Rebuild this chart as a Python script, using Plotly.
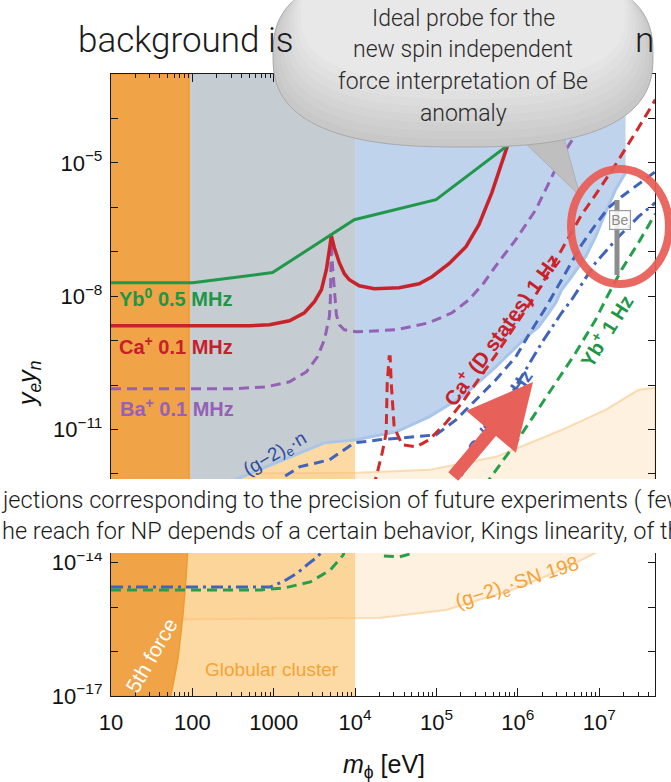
import numpy as np
import plotly.graph_objects as go

# ---------------- data ----------------
# all values are log10: x = log10(m_phi / eV), y = log10(y_e * y_n)
yb0_logm = [1.0, 2.005, 2.985, 3.99, 4.995, 5.853, 6.99]
yb0_logy = [-7.70, -7.70, -7.47, -6.28, -5.83, -4.64, -3.06]

ca_logm = [1.0, 2.703, 2.948, 3.194, 3.377, 3.500, 3.586, 3.647, 3.684, 3.708, 3.745, 3.806, 3.868,
           3.929, 4.051, 4.235, 4.542, 4.787, 4.946, 5.154, 5.363, 5.522, 5.681, 5.865, 6.012]
ca_logy = [-8.667, -8.667, -8.645, -8.554, -8.374, -8.126, -7.856, -7.405, -6.955, -6.640, -6.910, -7.248, -7.495,
           -7.631, -7.766, -7.834, -7.811, -7.721, -7.563, -7.270, -6.887, -6.392, -5.671, -4.658, -3.577]

ba_logm = [1.0, 2.495, 2.912, 3.194, 3.402, 3.537, 3.623, 3.684, 3.696, 3.704, 3.708, 3.721, 3.745, 3.770, 3.806,
           3.868, 4.015, 4.297, 4.505, 4.909, 5.191, 5.400, 5.583, 5.767, 5.975, 6.221, 6.380, 6.539, 6.748, 6.993, 7.238]
ba_logy = [-10.086, -10.086, -10.041, -9.928, -9.703, -9.365, -8.982, -8.464, -8.081, -7.405, -6.797, -7.293, -7.968,
           -8.419, -8.644, -8.757, -8.802, -8.779, -8.757, -8.599, -8.374, -8.081, -7.698, -7.225, -6.730, -6.054,
           -5.446, -4.860, -4.252, -3.464, -2.676]

caD_logm = [1.0, 3.316, 3.806, 4.113, 4.260, 4.333, 4.382, 4.395, 4.419, 4.431, 4.444, 4.480, 4.578, 4.750, 4.909,
            5.118, 5.314, 5.485, 5.730, 5.975, 6.221, 6.539, 6.784, 6.956, 7.201, 7.446, 7.691]
caD_logy = [-13.486, -13.486, -13.306, -12.856, -12.068, -11.527, -11.077, -9.950, -9.365, -9.365, -9.950, -10.941,
            -11.347, -11.392, -11.234, -10.851, -10.401, -9.950, -9.320, -8.644, -7.968, -6.955, -6.167, -5.716,
            -5.041, -4.320, -3.577]

sr_logm = [1.0, 2.581, 2.850, 3.010, 3.108, 3.316, 3.684, 3.990, 4.297, 4.995, 5.240, 5.485, 5.730, 5.975, 6.135,
           6.343, 6.539, 6.784, 6.956, 7.115, 7.275, 7.446, 7.691]
sr_logy = [-12.923, -12.923, -12.766, -12.473, -12.090, -11.842, -11.685, -11.302, -11.234, -11.122, -10.784,
           -10.333, -9.883, -9.365, -8.869, -8.261, -7.631, -6.842, -6.392, -6.009, -5.761, -5.536, -5.198]

srdd_logm = [1.0, 2.961, 3.132, 3.292, 3.439, 3.537, 3.610, 3.745, 3.929, 4.297, 4.787, 5.093, 5.277, 5.522, 5.804,
             6.049, 6.294, 6.539, 6.662, 6.956, 7.238, 7.483, 7.691]
srdd_logy = [-14.545, -14.545, -14.410, -14.230, -14.005, -13.869, -13.712, -13.216, -12.856, -12.653, -12.541,
             -12.405, -12.135, -11.302, -10.559, -9.815, -9.050, -8.374, -8.081, -7.248, -6.662, -6.212, -5.896]

ybp_logm = [1.0, 2.838, 3.132, 3.451, 3.696, 3.855, 3.953, 4.051, 4.199, 4.333, 4.542, 4.725, 5.032, 5.338, 5.645,
            5.975, 6.221, 6.466, 6.711, 6.956, 7.078, 7.275, 7.483, 7.691]
ybp_logy = [-14.613, -14.613, -14.568, -14.432, -14.162, -13.824, -13.149, -12.923, -13.486, -13.847, -13.869,
            -13.779, -13.261, -12.698, -12.135, -11.302, -10.626, -9.950, -9.275, -8.532, -8.081, -7.405, -6.797,
            -6.144]

# excluded regions
g2n_bound_logm = [1.968, 2.581, 3.623, 4.0, 4.015, 4.505, 4.909, 5.314, 5.730, 6.135, 6.257, 6.380, 6.466, 6.539,
                  6.662, 6.833, 6.956, 7.078, 7.201, 7.324]
g2n_bound_logy = [-12.586, -12.090, -11.302, -11.24, -11.234, -11.054, -10.716, -10.266, -9.590, -8.869, -8.689,
                  -8.374, -8.149, -7.856, -7.563, -7.113, -6.662, -6.122, -5.604, -5.221]
g2n_top_logy = -3.0

sn_top_logm = [1.0, 4.015, 4.909, 5.730, 6.539, 7.078, 7.483, 7.691]
sn_top_logy = [-12.0, -11.977, -11.910, -11.617, -11.009, -10.559, -10.108, -10.063]
sn_bot_logm = [1.0, 4.297, 5.118, 5.926, 6.539, 6.956, 7.238, 7.691]
sn_bot_logy = [-15.288, -15.243, -15.063, -14.613, -14.162, -13.779, -13.486, -12.923]

globular_logm = [1.0, 4.0]

fifth_logm = [1.0, 1.96, 1.96, 1.944, 1.92, 1.882, 1.82, 1.735, 1.0]
fifth_logy = [-3.0, -3.0, -13.2, -13.71, -14.4, -15.22, -16.2, -17.0, -17.0]

x_tick_exp = [1, 2, 3, 4, 5, 6, 7]
x_tick_text = ["10", "100", "1000", "10<sup>4</sup>", "10<sup>5</sup>", "10<sup>6</sup>", "10<sup>7</sup>"]
y_label_exp = [-17, -14, -11, -8, -5]
LOGX_RANGE = [1.0, 7.686]
LOGY_RANGE = [-17.0, -3.0]

FONT = "Liberation Sans, Arial, sans-serif"
SLIDE_FONT = "Roboto, Liberation Sans, sans-serif"

# ---------------- helpers ----------------
def v(a):
    return 10.0 ** np.asarray(a, dtype=float)

# pixel -> paper mapping for decorative overlays
PL, PR, PT, PB = 111, 655, 74, 696
def fx(x):
    return (x - PL) / (PR - PL)
def fy(y):
    return (PB - y) / (PB - PT)

fig = go.Figure()

def region(lm, ly, color, line=None, lw=0):
    fig.add_trace(go.Scatter(x=v(lm), y=v(ly), mode="lines", fill="toself", fillcolor=color,
                             line=dict(color=line or color, width=lw), hoverinfo="skip", showlegend=False))

# globular cluster
region([globular_logm[0], globular_logm[1], globular_logm[1], globular_logm[0]],
       [LOGY_RANGE[0], LOGY_RANGE[0], LOGY_RANGE[1], LOGY_RANGE[1]], "#FDDAA4")
# SN 1987A x (g-2)e
region(sn_top_logm + sn_bot_logm[::-1], sn_top_logy + sn_bot_logy[::-1],
       "rgba(250,200,130,0.26)", line="rgba(250,190,115,0.5)", lw=2)
# (g-2)e . n : blue part (m >= 1e4) and grey part (overlap, m < 1e4)
k = g2n_bound_logm.index(4.0)
region(g2n_bound_logm[k:] + [g2n_bound_logm[-1], 4.0], g2n_bound_logy[k:] + [g2n_top_logy, g2n_top_logy], "#BFD3EC")
region(g2n_bound_logm[:k + 1] + [4.0, g2n_bound_logm[0]], g2n_bound_logy[:k + 1] + [g2n_top_logy, g2n_top_logy],
       "#C5CDD3")
fig.add_trace(go.Scatter(x=v(g2n_bound_logm), y=v(g2n_bound_logy), mode="lines",
                         line=dict(color="#A9C5EA", width=3), hoverinfo="skip", showlegend=False))
# 5th force
region(fifth_logm, fifth_logy, "#F0A347", line="#F29A2E", lw=1.5)

def curve(lm, ly, color, width=3, dash="solid"):
    fig.add_trace(go.Scatter(x=v(lm), y=v(ly), mode="lines", line=dict(color=color, width=width, dash=dash),
                             hoverinfo="skip", showlegend=False))

DASH = "10px,6px"
curve(srdd_logm, srdd_logy, "#3F64BA", 3, "12px,5px,3px,5px")
curve(ybp_logm, ybp_logy, "#24A04C", 3, DASH)
curve(sr_logm, sr_logy, "#3F64BA", 3, DASH)
curve(caD_logm, caD_logy, "#D02A2A", 3, DASH)
curve(ba_logm, ba_logy, "#9561B5", 3, DASH)
curve(ca_logm, ca_logy, "#C8222B", 3.5)
curve(yb0_logm, yb0_logy, "#21974A", 3)

# ---------------- axes ----------------
x_minor = [m * 10.0 ** e for e in range(1, 8) for m in range(2, 10) if m * 10.0 ** e < 10 ** LOGX_RANGE[1]]
y_major = [10.0 ** e for e in y_label_exp]
y_major_text = ["10<sup>\u2212%d</sup>" % (-e) for e in y_label_exp]
y_minor = [10.0 ** e for e in range(-17, -2) if e not in y_label_exp]

axis_common = dict(type="log", showgrid=False, zeroline=False, showline=True, linecolor="#1a1a1a", linewidth=1.3,
                   mirror="ticks", ticks="inside", tickcolor="#1a1a1a", tickwidth=1.2,
                   tickfont=dict(family=FONT, size=22, color="#111"))
fig.update_xaxes(range=LOGX_RANGE, tickvals=[10.0 ** e for e in x_tick_exp], ticktext=x_tick_text, ticklen=8,
                 ticklabelstandoff=6,
                 minor=dict(tickvals=x_minor, ticks="inside", ticklen=4, tickwidth=1, tickcolor="#1a1a1a"),
                 **axis_common)
fig.update_yaxes(range=LOGY_RANGE, tickvals=y_major, ticktext=y_major_text, ticklen=7, ticklabelstandoff=3,
                 minor=dict(tickvals=y_minor, ticks="inside", ticklen=7, tickwidth=1.2, tickcolor="#1a1a1a"),
                 **axis_common)

# ---------------- overlays (slide decorations) ----------------
shapes = []

def poly_path(pts):
    return "M" + " L".join("%.5f,%.5f" % (fx(x), fy(y)) for x, y in pts) + " Z"

def superellipse(cx, cy, a, b, n, num=120):
    t = np.linspace(0, 2 * np.pi, num, endpoint=False)
    c, s = np.cos(t), np.sin(t)
    xs = cx + a * np.sign(c) * np.abs(c) ** (2.0 / n)
    ys = cy + b * np.sign(s) * np.abs(s) ** (2.0 / n)
    return poly_path(list(zip(xs, ys)))

# white text band of the slide
shapes.append(dict(type="rect", xref="paper", yref="paper", x0=fx(-10), x1=fx(690), y0=fy(553), y1=fy(479),
                   fillcolor="white", line=dict(width=0), layer="above"))
# speech-bubble tail
shapes.append(dict(type="path", xref="paper", yref="paper", path=poly_path([(520, 138), (562, 130), (580, 196)]),
                   fillcolor="#BFBFBF", line=dict(color="#A8A8A8", width=0.8), layer="above"))
# speech bubble with soft vertical gradient
shapes.append(dict(type="path", xref="paper", yref="paper", path=superellipse(463, 55, 190, 92, 2.6),
                   fillcolor="#C8C8C8", line=dict(color="#A9A9A9", width=1), layer="above"))
for i in range(1, 9):
    g = 0xC8 + i * 4
    shapes.append(dict(type="path", xref="paper", yref="paper",
                       path=superellipse(463, 55 - 5 * i, 190 - 3.5 * i, 92 - 3 * i, 2.6),
                       fillcolor="#%02X%02X%02X" % (g, g, g), line=dict(width=0), layer="above"))
# Be marker bar
shapes.append(dict(type="line", xref="paper", yref="paper", x0=fx(617), x1=fx(617), y0=fy(275), y1=fy(200),
                   line=dict(color="#8C8C8C", width=5), layer="above"))
# hand-drawn red circle
shapes.append(dict(type="circle", xref="paper", yref="paper", x0=fx(571), x1=fx(669), y0=fy(284), y1=fy(169),
                   line=dict(color="rgba(232,92,86,0.93)", width=8), layer="above"))

ann = []

def label(x, y, text, color, size, angle=0, bold=False, xanchor="center", family=FONT, weight=None):
    f = dict(family=family, size=size, color=color)
    if weight:
        f["weight"] = weight
    ann.append(dict(x=fx(x), y=fy(y), xref="paper", yref="paper", text=("<b>%s</b>" % text) if bold else text,
                    showarrow=False, textangle=angle, xanchor=xanchor, yanchor="middle", font=f))

label(117, 297, "Yb<sup>0</sup> 0.5 MHz", "#1E9646", 20, bold=True, xanchor="left")
label(117, 345, "Ca<sup>+</sup> 0.1 MHz", "#C8202A", 20, bold=True, xanchor="left")
label(118, 407, "Ba<sup>+</sup> 0.1 MHz", "#9561B5", 20, bold=True, xanchor="left")
label(275, 455, "(g\u22122)<sub>e</sub>\u00b7n", "#2E4C9E", 19, angle=-30)
label(501, 329, "Ca<sup>+</sup> (D states) 1 Hz", "#C8202A", 20.5, angle=-54, bold=True)
label(499, 411, "Sr/Sr<sup>+</sup> 1 Hz", "#3F63B8", 19, angle=-55, bold=True)
label(605, 330, "Yb<sup>+</sup> 1 Hz", "#1E9646", 20, angle=-58, bold=True)
label(151, 655, "5th force", "white", 21, angle=-60)
label(272, 669, "Globular cluster", "#F7A234", 19)
label(517, 583, "(g\u22122)<sub>e</sub>\u00b7SN 198", "#F7A234", 20, angle=-18)

# Be box
ann.append(dict(x=fx(631), y=fy(210), xref="paper", yref="paper", text="Be", showarrow=False,
                font=dict(family=FONT, size=14, color="#8A8A8A"), bordercolor="#9C9C9C", borderwidth=1.2,
                borderpad=1, bgcolor="rgba(255,255,255,0.85)"))

# red hand-drawn arrow
ann.append(dict(x=fx(533), y=fy(382), xref="paper", yref="paper", ax=-81, ay=96, text="", showarrow=True,
                arrowhead=2, arrowsize=1.0, arrowwidth=13, arrowcolor="#E8605A", standoff=0))

# axis titles
label(29, 384, "<i>y<sub>e</sub>y<sub>n</sub></i>", "#111", 25, angle=-90)
label(384, 766, "<i>m</i><sub>\u03d5</sub> [eV]", "#111", 25)

# slide texts
label(186, 40, "background is", "#1a1a1a", 35, family=SLIDE_FONT, weight=300)
label(644, 40, "n", "#1a1a1a", 35, family=SLIDE_FONT, weight=300)
for txt, yy in [("Ideal probe for the", 18), ("new spin independent", 50),
                ("force interpretation of Be", 82), ("anomaly", 113)]:
    label(463, yy, txt, "#2a2a2a", 23, family=SLIDE_FONT, weight=300)
label(-1, 500, "jections corresponding to the precision of future experiments ( few", "#1a1a1a", 23.5,
      xanchor="left", family=SLIDE_FONT, weight=300)
label(0, 531, "he reach for NP depends of a certain behavior, Kings linearity, of th", "#1a1a1a", 23.5,
      xanchor="left", family=SLIDE_FONT, weight=300)

fig.update_layout(width=671, height=782, margin=dict(l=PL, r=671 - PR, t=PT, b=782 - PB),
                  paper_bgcolor="white", plot_bgcolor="white", showlegend=False, hovermode=False,
                  shapes=shapes, annotations=ann, font=dict(family=FONT))

fig.write_html("out.html", config={"displayModeBar": False},
               post_script="document.body.style.margin='0';document.body.style.overflow='hidden';")
